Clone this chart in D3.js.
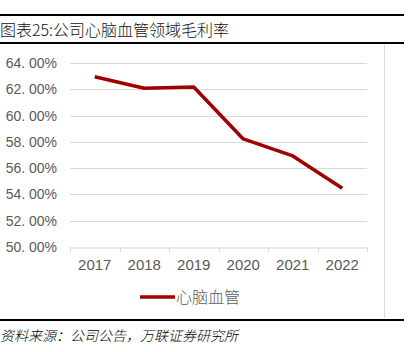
<!DOCTYPE html>
<html>
<head>
<meta charset="utf-8">
<script src="https://cdn.jsdelivr.net/npm/d3@7"></script>
<style>
  body { margin: 0; background: #fff; }
  svg { display: block; }
</style>
</head>
<body>
<div id="chart"></div>
<script>
// chart data
var years = ["2017", "2018", "2019", "2020", "2021", "2022"];
var margin = [62.95, 62.08, 62.18, 58.22, 56.93, 54.47];
var yTicks = [50, 52, 54, 56, 58, 60, 62, 64];
var seriesName = "心脑血管";
var title = "图表25:公司心脑血管领域毛利率";
var source = "资料来源：公司公告，万联证券研究所";

var W = 412, H = 352;

var svg = d3.select("#chart")
	.append("svg")
	.attr("width", W)
	.attr("height", H);

// header lines and title
svg.append("line").attr("x1", 0).attr("x2", 404).attr("y1", 15).attr("y2", 15)
	.attr("stroke", "#000").attr("stroke-width", 2);
svg.append("line").attr("x1", 0).attr("x2", 404).attr("y1", 43).attr("y2", 43)
	.attr("stroke", "#000").attr("stroke-width", 2);
svg.append("text")
	.attr("x", 0).attr("y", 36)
	.attr("font-family", "Noto Sans CJK SC")
	.attr("font-size", 16)
	.attr("font-weight", 300)
	.attr("fill", "#111")
	.text(title);

// chart frame right edge
svg.append("line").attr("x1", 384.5).attr("x2", 384.5).attr("y1", 45).attr("y2", 318)
	.attr("stroke", "#d9d9d9").attr("stroke-width", 1);

// scales
var x = d3.scaleBand()
	.domain(years)
	.range([70, 367]);

var y = d3.scaleLinear()
	.domain([50, 64])
	.range([247, 63]);

// gridlines
svg.append("g")
	.selectAll("line")
	.data(yTicks.filter(function(d) { return d > 50; }))
	.enter()
	.append("line")
	.attr("x1", 70).attr("x2", 367)
	.attr("y1", function(d) { return Math.round(y(d)) + 0.5; })
	.attr("y2", function(d) { return Math.round(y(d)) + 0.5; })
	.attr("stroke", "#d9d9d9")
	.attr("stroke-width", 1);

// y axis labels
var yAxis = svg.append("g")
	.attr("transform", "translate(70,0)")
	.call(d3.axisLeft(y)
		.tickValues(yTicks)
		.tickSize(0)
		.tickPadding(13)
		.tickFormat(function(d) { return d3.format(".2f")(d).replace(".", ". ") + "%"; }));
yAxis.select(".domain").remove();
yAxis.selectAll("text")
	.attr("font-family", "Liberation Sans")
	.attr("font-size", 14)
	.attr("fill", "#595959");

// x axis
var xAxis = svg.append("g")
	.attr("transform", "translate(0," + (Math.round(y(50)) + 0.5) + ")")
	.call(d3.axisBottom(x).tickSize(0).tickPadding(12));
xAxis.select(".domain").attr("stroke", "#d9d9d9");
xAxis.selectAll("text")
	.attr("font-family", "Liberation Sans")
	.attr("font-size", 15)
	.attr("fill", "#595959");

// tick marks at band boundaries
var bounds = years.map(function(d) { return x(d); }).concat([x(years[years.length - 1]) + x.bandwidth()]);
svg.append("g")
	.selectAll("line")
	.data(bounds)
	.enter()
	.append("line")
	.attr("x1", function(d) { return Math.round(d) + 0.5; })
	.attr("x2", function(d) { return Math.round(d) + 0.5; })
	.attr("y1", Math.round(y(50)))
	.attr("y2", Math.round(y(50)) + 5)
	.attr("stroke", "#d9d9d9");

// the line
svg.append("path")
	.datum(margin)
	.attr("fill", "none")
	.attr("stroke", "#a00000")
	.attr("stroke-width", 3.5)
	.attr("stroke-linejoin", "round")
	.attr("d", d3.line()
		.x(function(d, i) { return x(years[i]) + x.bandwidth() / 2; })
		.y(function(d) { return y(d); }));

// legend
svg.append("line").attr("x1", 140).attr("x2", 175).attr("y1", 297).attr("y2", 297)
	.attr("stroke", "#a00000").attr("stroke-width", 3.5);
svg.append("text")
	.attr("x", 176).attr("y", 303)
	.attr("font-family", "Noto Sans CJK SC")
	.attr("font-size", 16)
	.attr("font-weight", 300)
	.attr("fill", "#595959")
	.text(seriesName);

// footer
svg.append("line").attr("x1", 0).attr("x2", 404).attr("y1", 320).attr("y2", 320)
	.attr("stroke", "#000").attr("stroke-width", 2);
svg.append("text")
	.attr("x", 0).attr("y", 341)
	.attr("font-family", "Noto Sans CJK SC")
	.attr("font-size", 14)
	.attr("font-weight", 300)
	.attr("font-style", "italic")
	.attr("fill", "#000")
	.text(source);
</script>
</body>
</html>
